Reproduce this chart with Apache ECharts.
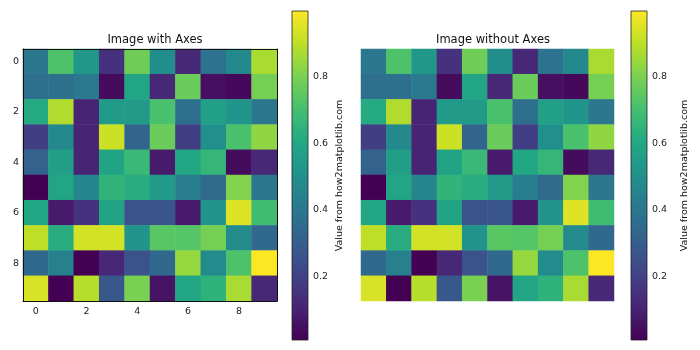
<!DOCTYPE html>
<html><head><meta charset="utf-8">
<script src="https://cdn.jsdelivr.net/npm/echarts@6/dist/echarts.min.js"></script>
<style>html,body{margin:0;padding:0;background:#fff}#c{width:700px;height:350px}</style>
</head><body><div id="c"></div>
<script>
const rowLabels = [0,1,2,3,4,5,6,7,8,9];
const colLabels = [0,1,2,3,4,5,6,7,8,9];
const row0 = [0.40,0.72,0.53,0.15,0.78,0.49,0.12,0.38,0.47,0.87];
const row1 = [0.37,0.37,0.41,0.04,0.59,0.12,0.77,0.05,0.03,0.79];
const row2 = [0.61,0.88,0.11,0.54,0.54,0.71,0.37,0.57,0.52,0.40];
const row3 = [0.19,0.47,0.11,0.92,0.33,0.77,0.19,0.50,0.71,0.83];
const row4 = [0.32,0.56,0.11,0.58,0.67,0.08,0.60,0.66,0.04,0.12];
const row5 = [0.01,0.59,0.46,0.65,0.62,0.54,0.43,0.35,0.81,0.40];
const row6 = [0.60,0.08,0.15,0.58,0.26,0.27,0.08,0.52,0.95,0.69];
const row7 = [0.90,0.62,0.93,0.93,0.52,0.74,0.73,0.79,0.48,0.34];
const row8 = [0.34,0.44,0.01,0.12,0.26,0.34,0.84,0.48,0.72,0.997];
const row9 = [0.94,0.01,0.89,0.28,0.80,0.06,0.59,0.64,0.87,0.12];
const rows = [row0,row1,row2,row3,row4,row5,row6,row7,row8,row9];
const vMin = 0.01, vMax = 0.997;
const cbTicks = [0.2,0.4,0.6,0.8];
const titles = ['Image with Axes','Image without Axes'];
const cbLabel = 'Value from how2matplotlib.com';

const viridis = ['#440154','#482475','#414487','#355f8d','#2a788e','#21918c','#22a884','#44bf70','#7ad151','#bddf26','#fde725'];

const cells = [];
rows.forEach((r, y) => r.forEach((v, x) => cells.push([x, y, v])));

const font = 'DejaVu Sans';
const chart = echarts.init(document.getElementById('c'), null, {renderer:'canvas'});

function cbRender(params, api){
  const p0 = api.coord([0, vMin]);
  const p1 = api.coord([1, vMax]);
  const stops = viridis.map((c,i)=>({offset: 1 - i/(viridis.length-1), color: c}));
  return {
    type:'rect',
    shape:{x:p0[0], y:p1[1], width:p1[0]-p0[0], height:p0[1]-p1[1]},
    style:{fill:new echarts.graphic.LinearGradient(0,0,0,1,stops), stroke:'#222', lineWidth:0.8}
  };
}

const spine = {show:true, onZero:false, lineStyle:{color:'#111', width:1}};
const option = {
  animation:false,
  title:[
    {text:titles[0], left:150, top:29, textAlign:'center', textStyle:{fontFamily:font,fontSize:11.5,fontWeight:'normal',color:'#111'}},
    {text:titles[1], left:488, top:29, textAlign:'center', textStyle:{fontFamily:font,fontSize:11.5,fontWeight:'normal',color:'#111'}}
  ],
  grid:[
    {left:23, top:49, width:254, height:252},
    {left:361, top:49, width:253, height:252},
    {left:292, top:11, width:16, height:329},
    {left:631, top:11, width:16, height:329}
  ],
  xAxis:[
    {type:'category', gridIndex:0, data:colLabels, position:'bottom', z:10,
     axisLine:spine,
     axisTick:{interval:1, alignWithLabel:true, length:4, lineStyle:{color:'#111'}},
     axisLabel:{interval:1, fontFamily:font, fontSize:9.5, color:'#222', margin:6},
     splitLine:{show:false}},
    {type:'category', gridIndex:1, data:colLabels, show:false},
    {type:'value', gridIndex:2, min:0, max:1, show:false},
    {type:'value', gridIndex:3, min:0, max:1, show:false},
    {type:'value', gridIndex:0, min:0, max:1, position:'top', z:10, axisLine:spine, axisTick:{show:false}, axisLabel:{show:false}, splitLine:{show:false}}
  ],
  yAxis:[
    {type:'category', gridIndex:0, data:rowLabels, inverse:true, z:10,
     axisLine:spine,
     axisTick:{interval:1, alignWithLabel:true, length:4, lineStyle:{color:'#111'}},
     axisLabel:{interval:1, fontFamily:font, fontSize:9.5, color:'#222', margin:4},
     splitLine:{show:false}},
    {type:'category', gridIndex:1, data:rowLabels, inverse:true, show:false},
    {type:'value', gridIndex:2, min:vMin, max:vMax, position:'right',
     axisLine:{show:false}, splitLine:{show:false},
     axisTick:{show:true, customValues:cbTicks, length:4, lineStyle:{color:'#111'}},
     axisLabel:{customValues:cbTicks, formatter:v=>v.toFixed(1), fontFamily:font, fontSize:9.5, color:'#222', margin:5},
     name:cbLabel, nameLocation:'middle', nameRotate:90, nameGap:27,
     nameTextStyle:{fontFamily:font, fontSize:9.5, color:'#111'}},
    {type:'value', gridIndex:3, min:vMin, max:vMax, position:'right',
     axisLine:{show:false}, splitLine:{show:false},
     axisTick:{show:true, customValues:cbTicks, length:4, lineStyle:{color:'#111'}},
     axisLabel:{customValues:cbTicks, formatter:v=>v.toFixed(1), fontFamily:font, fontSize:9.5, color:'#222', margin:5},
     name:cbLabel, nameLocation:'middle', nameRotate:90, nameGap:33,
     nameTextStyle:{fontFamily:font, fontSize:9.5, color:'#111'}},
    {type:'value', gridIndex:0, min:0, max:1, position:'right', z:10, axisLine:spine, axisTick:{show:false}, axisLabel:{show:false}, splitLine:{show:false}}
  ],
  visualMap:[
    {show:false, type:'continuous', min:vMin, max:vMax, seriesIndex:0, dimension:2, inRange:{color:viridis}},
    {show:false, type:'continuous', min:vMin, max:vMax, seriesIndex:1, dimension:2, inRange:{color:viridis}}
  ],
  series:[
    {type:'heatmap', xAxisIndex:0, yAxisIndex:0, data:cells, emphasis:{disabled:true}},
    {type:'heatmap', xAxisIndex:1, yAxisIndex:1, data:cells, emphasis:{disabled:true}},
    {type:'custom', xAxisIndex:2, yAxisIndex:2, data:[[0, vMin]], renderItem:cbRender, silent:true},
    {type:'custom', xAxisIndex:3, yAxisIndex:3, data:[[0, vMin]], renderItem:cbRender, silent:true}
  ]
};
chart.setOption(option);
</script></body></html>
